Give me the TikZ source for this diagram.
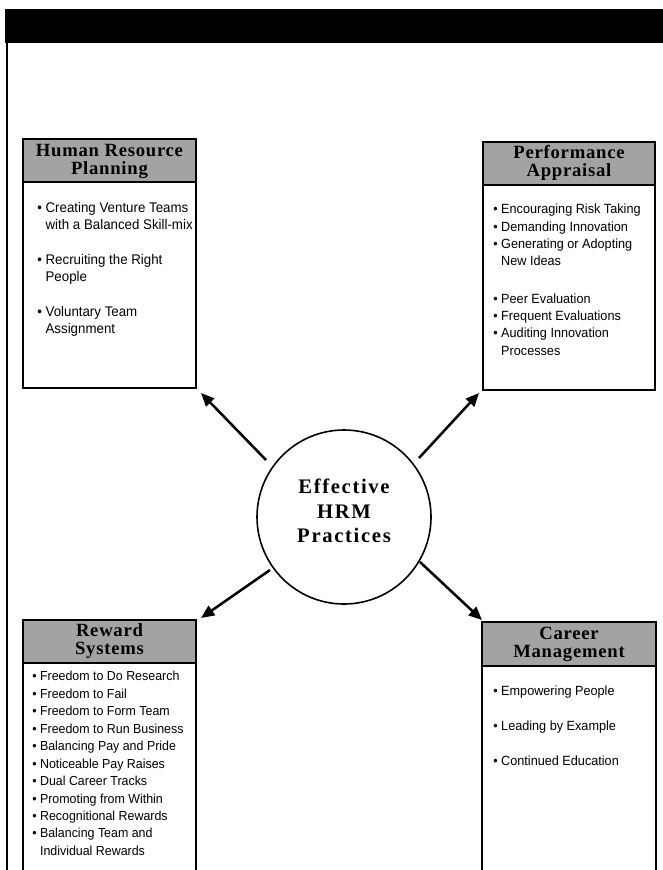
\documentclass[tikz,border=0pt]{standalone}
\usepackage{fontspec}
\setmainfont{Liberation Serif}
\newfontfamily\bodyfont[FakeStretch=0.95]{Liberation Sans}
\newfontfamily\hdrfont[LetterSpace=4]{Liberation Serif}
\newfontfamily\circfont[LetterSpace=8]{Liberation Serif}
\usetikzlibrary{arrows.meta}
\newcommand\cont{\hphantom{\textbullet\ }}
\definecolor{hdrgray}{gray}{0.64}
\tikzset{
  frame/.style={line width=1.2pt},
  boxline/.style={draw=black, line width=1.5pt},
  hdrfill/.style={boxline, fill=hdrgray},
  hdrtext/.style={font=\hdrfont\bfseries\fontsize{14}{13.5}\selectfont, align=center, inner sep=0pt},
  bodytext/.style={font=\bodyfont\fontsize{10}{13}\selectfont, align=left, anchor=north west, inner sep=0pt},
  hub/.style={circle, draw=black, line width=1.2pt, minimum size=130.5pt, inner sep=0pt},
  hubtext/.style={font=\circfont\bfseries\fontsize{15.5}{18.3}\selectfont, align=center, inner sep=0pt},
  arr/.style={line width=1.9pt, -{Triangle[length=10pt,width=8.5pt]}}
}
\begin{document}
\begin{tikzpicture}[x=0.75pt,y=-0.75pt]
\useasboundingbox (0,0) rectangle (663,870);
% top bar and frame
\fill[black] (5,9) rectangle (663,43);
\draw[frame] (7,9) -- (7,870);

% Human Resource Planning
\draw[hdrfill] (23,139) rectangle (196,182);
\draw[boxline] (23,182) rectangle (196,388);
\node[hdrtext] (hrph) at (109.5,161) {Human Resource\\Planning};
\node[bodytext, font=\bodyfont\fontsize{10.5}{13}\selectfont] (hrpb) at (37,202) {\textbullet\ Creating Venture Teams\\
\cont with a Balanced Skill-mix\\[13pt]
\textbullet\ Recruiting the Right\\
\cont People\\[13pt]
\textbullet\ Voluntary Team\\
\cont Assignment};
\coordinate (hrpc) at (201,393);

% Performance Appraisal
\draw[hdrfill] (483,142) rectangle (655,185);
\draw[boxline] (483,185) rectangle (655,390);
\node[hdrtext] (pah) at (569,163) {Performance\\Appraisal};
\node[bodytext] (pab) at (493,204) {\textbullet\ Encouraging Risk Taking\\
\textbullet\ Demanding Innovation\\
\textbullet\ Generating or Adopting\\
\cont New Ideas\\[15pt]
\textbullet\ Peer Evaluation\\
\textbullet\ Frequent Evaluations\\
\textbullet\ Auditing Innovation\\
\cont Processes};
\coordinate (pac) at (479,393);

% Reward Systems
\draw[hdrfill] (23,620) rectangle (196,663);
\draw[boxline] (23,663) -- (23,875) (196,663) -- (196,875);
\node[hdrtext] (rsh) at (109.5,641) {Reward\\Systems};
\node[bodytext, font=\bodyfont\fontsize{9.8}{13.1}\selectfont] (rsb) at (32,671) {\textbullet\ Freedom to Do Research\\
\textbullet\ Freedom to Fail\\
\textbullet\ Freedom to Form Team\\
\textbullet\ Freedom to Run Business\\
\textbullet\ Balancing Pay and Pride\\
\textbullet\ Noticeable Pay Raises\\
\textbullet\ Dual Career Tracks\\
\textbullet\ Promoting from Within\\
\textbullet\ Recognitional Rewards\\
\textbullet\ Balancing Team and\\
\cont Individual Rewards};
\coordinate (rsc) at (201,618);

% Career Management
\draw[hdrfill] (482,622) rectangle (656,666);
\draw[boxline] (482,666) -- (482,875) (656,666) -- (656,875);
\node[hdrtext] (cmh) at (569,644) {Career\\Management};
\node[bodytext] (cmb) at (493,686) {\textbullet\ Empowering People\\[13pt]
\textbullet\ Leading by Example\\[13pt]
\textbullet\ Continued Education};
\coordinate (cmc) at (482,620);

% hub
\node[hub] (hub) at (344,517) {};
\node[hubtext] (hubt) at (344,511) {Effective\\HRM\\Practices};
\coordinate (s1) at (266,460);
\coordinate (s2) at (419,458);
\coordinate (s3) at (270,570);
\coordinate (s4) at (420,562);
\draw[arr] (s1) -- (hrpc);
\draw[arr] (s2) -- (pac);
\draw[arr] (s3) -- (rsc);
\draw[arr] (s4) -- (cmc);
\end{tikzpicture}
\end{document}
